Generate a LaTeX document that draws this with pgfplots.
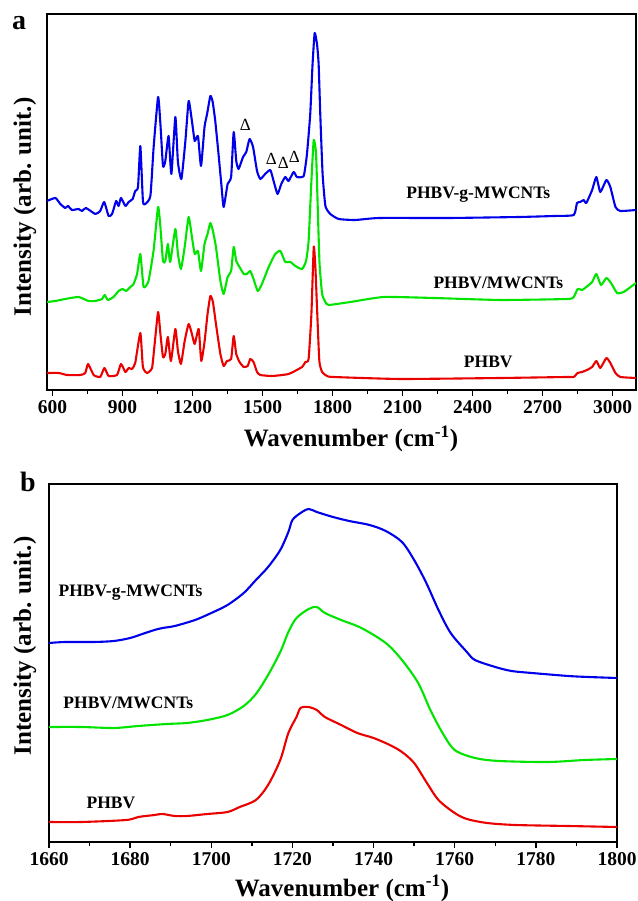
\documentclass[border=0pt]{standalone}
\usepackage{fontspec}
\setmainfont{Liberation Serif}
\usepackage{pgfplots}
\pgfplotsset{compat=1.18}
\definecolor{cblue}{RGB}{0,0,235}
\definecolor{cgreen}{RGB}{0,228,0}
\definecolor{cred}{RGB}{235,0,0}
\tikzset{lab/.style={font=\fontsize{17.5}{17.5}\selectfont\bfseries}}
\pgfplotsset{
  spec/.style={
    scale only axis,
    axis line style={line width=1.6pt},
    ytick=\empty,
    xtick pos=bottom, tick align=outside,
    major tick length=6pt, minor tick length=4pt,
    every tick/.style={black, line width=1.3pt},
    tick label style={font=\fontsize{19.5}{19.5}\selectfont\bfseries},
    /pgf/number format/assume math mode=true,
    /pgf/number format/1000 sep={},
    xticklabel style={yshift=-1pt},
    every axis plot/.append style={line width=2.1pt, line join=round, smooth},
  },
}
\begin{document}
\begin{tikzpicture}
\useasboundingbox (0pt,0pt) rectangle (637pt,901pt);

%% panel a
\begin{axis}[spec, at={(47pt,511pt)}, anchor=south west,
  width=589pt, height=376pt,
  xmin=576, xmax=3100, ymin=0, ymax=376,
  xtick={600,900,...,3000}, minor x tick num=1,
  every axis plot/.append style={tension=0.3}]
\addplot[cblue] coordinates {
(576,189)(612,192)(633,186)(654,182)(666,184)(683,180)(711,181)(726,179)(743,182)
(783,176)(804,179)(821,188)(840,174)(855,176)(872,189)(883,184)(893,192)(912,184)
(926,188)(943,191)(954,199)(966,203)(976,244)(987,189)(997,186)(1019,194)(1033,243)
(1052,293)(1062,266)(1073,224)(1083,229)(1097,254)(1109,216)(1126,273)(1137,228)
(1152,211)(1169,249)(1183,289)(1197,269)(1209,249)(1223,254)(1236,224)(1251,263)
(1262,276)(1276,294)(1286,288)(1297,269)(1311,236)(1323,206)(1333,183)(1350,206)
(1365,213)(1376,258)(1387,229)(1397,221)(1416,233)(1430,238)(1444,251)(1459,243)
(1476,219)(1490,211)(1511,216)(1533,220)(1547,209)(1564,196)(1580,206)(1597,213)
(1611,209)(1633,218)(1647,213)(1676,214)(1690,236)(1704,276)(1714,326)(1723,357)
(1733,346)(1740,326)(1747,276)(1757,216)(1769,184)(1790,176)(1826,171)(1897,170)
(2000,172)(2300,172)(2600,173)(2750,174)(2833,175)(2847,187)(2861,188)(2876,190)
(2887,187)(2912,200)(2930,213)(2947,198)(2973,210)(2990,203)(3012,183)(3033,179)
(3100,180)};
\addplot[cgreen] coordinates {
(576,88)(612,89)(654,91)(711,93)(754,89)(783,89)(812,91)(823,95)(837,90)(861,93)
(883,99)(900,101)(915,99)(933,103)(947,106)(962,116)(976,136)(990,103)(1011,109)
(1033,140)(1052,183)(1062,163)(1073,129)(1083,129)(1094,146)(1104,128)(1126,161)
(1137,136)(1150,121)(1166,143)(1183,173)(1197,153)(1209,136)(1223,139)(1236,119)
(1251,146)(1264,156)(1276,167)(1287,159)(1300,143)(1319,109)(1333,96)(1350,113)
(1365,119)(1376,143)(1387,129)(1401,123)(1419,116)(1433,116)(1447,119)(1461,111)
(1479,99)(1497,106)(1526,123)(1554,136)(1576,139)(1597,128)(1619,128)(1640,124)
(1669,121)(1686,129)(1697,149)(1709,209)(1719,250)(1729,236)(1737,176)(1744,126)
(1755,96)(1769,88)(1783,85)(1876,88)(2019,93)(2233,92)(2519,90)(2805,91)(2833,93)
(2850,101)(2869,100)(2887,103)(2912,108)(2930,116)(2950,105)(2973,112)(2993,107)
(3019,97)(3047,98)(3100,107)};
\addplot[cred] coordinates {
(576,17)(626,17)(662,15)(719,15)(740,17)(752,26)(776,15)(804,13)(822,22)(840,14)
(876,15)(893,26)(912,18)(926,22)(940,21)(954,27)(976,57)(987,23)(1005,17)(1026,22)
(1036,43)(1052,78)(1062,56)(1073,33)(1083,36)(1094,53)(1107,29)(1126,61)(1137,39)
(1150,26)(1166,49)(1183,66)(1197,56)(1209,46)(1226,61)(1237,29)(1251,48)(1264,76)
(1276,94)(1287,88)(1300,66)(1319,36)(1333,24)(1347,29)(1365,31)(1376,54)(1387,36)
(1401,28)(1419,23)(1436,24)(1447,31)(1461,28)(1476,18)(1490,15)(1540,14)(1611,16)
(1669,23)(1683,28)(1697,31)(1709,76)(1719,143)(1726,123)(1733,83)(1743,29)(1755,18)
(1776,14)(1804,13)(2090,11)(2519,12)(2805,13)(2833,13)(2850,17)(2869,18)(2890,20)
(2912,23)(2930,29)(2947,22)(2973,32)(2990,27)(3012,17)(3033,13)(3100,12)};
\node[lab] at (axis cs:2424,195) {PHBV-g-MWCNTs};
\node[lab] at (axis cs:2510,107) {PHBV/MWCNTs};
\node[lab] at (axis cs:2467,28) {PHBV};
\begin{scope}[every node/.style={font=\fontsize{17}{17}\selectfont}]
\node at (axis cs:1426,265) {Δ};
\node at (axis cs:1537,231) {Δ};
\node at (axis cs:1589,227) {Δ};
\node at (axis cs:1636,233) {Δ};
\end{scope}
\end{axis}

%% panel b
\begin{axis}[spec, at={(49pt,59pt)}, anchor=south west,
  width=568pt, height=358pt,
  xmin=1660, xmax=1800, ymin=0, ymax=358,
  xtick={1660,1680,...,1800}, minor x tick num=1,
  every axis plot/.append style={tension=0.5}]
\addplot[cblue] coordinates {
(1660,199)(1664,200)(1671,200)(1676,201)(1680,204)(1683,208)(1686,212)(1688,214)
(1691,216)(1696,222)(1700,229)(1704,237)(1708,249)(1711,262)(1714,275)(1717,292)
(1719,310)(1720,322)(1722,329)(1724,333)(1726,330)(1730,325)(1734,321)(1739,317)
(1743,311)(1747,300)(1750,282)(1753,259)(1756,232)(1759,209)(1763,190)(1765,182)
(1770,175)(1774,171)(1779,169)(1788,166)(1793,165)(1800,164)};
\addplot[cgreen] coordinates {
(1660,115)(1668,115)(1676,114)(1682,116)(1689,118)(1694,119)(1699,122)(1704,127)
(1708,136)(1711,148)(1714,167)(1717,190)(1719,210)(1721,224)(1724,233)(1726,235)
(1728,229)(1732,222)(1737,214)(1743,199)(1747,182)(1751,159)(1754,132)(1757,109)
(1760,92)(1765,84)(1771,81)(1783,80)(1792,82)(1800,83)};
\addplot[cred] coordinates {
(1660,20)(1668,20)(1679,22)(1682,25)(1686,27)(1688,28)(1691,26)(1694,26)(1699,28)
(1704,30)(1707,35)(1711,42)(1714,57)(1717,82)(1719,109)(1721,125)(1722,134)
(1724,135)(1726,132)(1728,125)(1732,117)(1736,109)(1740,104)(1744,97)(1747,90)
(1750,79)(1753,60)(1756,42)(1760,29)(1763,23)(1768,19)(1775,17)(1788,16)(1800,15)};
\node[lab, anchor=west] at (axis cs:1661.5,249) {PHBV-g-MWCNTs};
\node[lab, anchor=west] at (axis cs:1662.7,139) {PHBV/MWCNTs};
\node[lab, anchor=west] at (axis cs:1668.4,39) {PHBV};
\end{axis}

%% panel letters and axis titles
\node[anchor=base west, font=\fontsize{28}{28}\selectfont\bfseries, inner sep=0pt] at (12pt,871pt) {a};
\node[anchor=base west, font=\fontsize{28}{28}\selectfont\bfseries, inner sep=0pt] at (20pt,409pt) {b};
\begin{scope}[every node/.style={font=\fontsize{25}{25}\selectfont\bfseries, inner sep=0pt}]
\node[anchor=base] at (351pt,454pt) {Wavenumber (cm\textsuperscript{-1})};
\node[anchor=base] at (342pt,5pt) {Wavenumber (cm\textsuperscript{-1})};
\node[rotate=90] at (25pt,694pt) {Intensity (arb. unit.)};
\node[rotate=90] at (25pt,255pt) {Intensity (arb. unit.)};
\end{scope}
\end{tikzpicture}
\end{document}
